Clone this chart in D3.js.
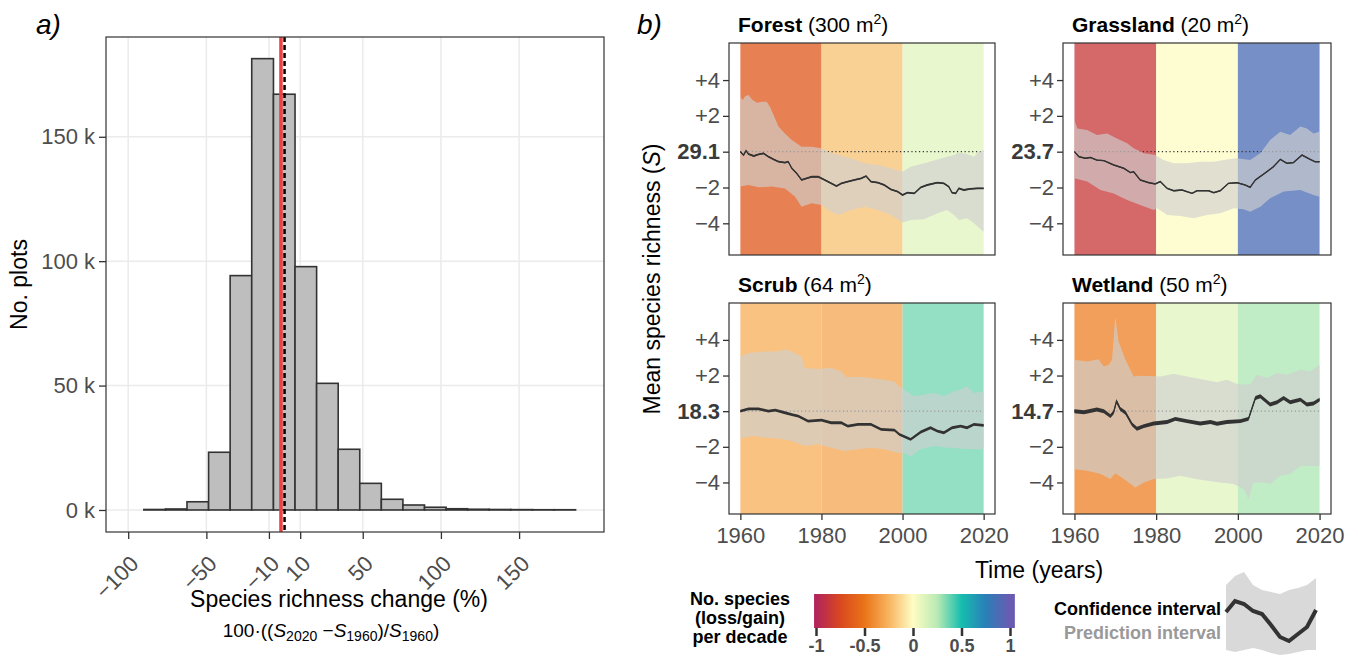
<!DOCTYPE html>
<html>
<head>
<meta charset="utf-8">
<script src="https://cdn.jsdelivr.net/npm/d3@7"></script>
<style>
body { margin: 0; background: #fff; }
text { font-family: "Liberation Sans", Arial, sans-serif; }
</style>
</head>
<body>
<div id="chart"></div>
<script>
// ---------- panel a: histogram of richness change ----------
var binEdges = [-90.0, -76.2, -62.4, -48.6, -34.8, -21.0, -7.1, 6.7, 20.5, 34.3, 48.1,
                61.9, 75.7, 89.5, 103.3, 117.1, 130.9, 144.7, 158.5, 172.3, 186.1];
var binCounts = [0.2, 0.4, 3.3, 23.2, 94.2, 181.4, 167.1, 97.8, 50.9, 24.4,
                 10.7, 4.3, 2.0, 1.1, 0.5, 0.3, 0.2, 0.15, 0.1, 0.1];   // thousands of plots
var meanChange = -2.3;     // red line
var zeroChange = 0;        // dashed line
var histXTicks = [-100, -50, -10, 10, 50, 100, 150];
var histYTicks = [0, 50, 100, 150];

// ---------- panel b: richness through time per habitat ----------
var habitats = ["Forest", "Grassland", "Scrub", "Wetland"];
var plotSize = ["300", "20", "64", "50"];
var baseRichness = [29.1, 23.7, 18.3, 14.7];
var decades = [1960, 1980, 2000, 2020];
var decadeSlope = [
  [-0.66, -0.2, 0.1],
  [-0.86, 0.0, 0.88],
  [-0.27, -0.3, 0.36],
  [-0.45, 0.1, 0.27]
];
var ciHalf = [0.05, 0.04, 0.08, 0.11];
var devTicks = [4, 2, 0, -2, -4];
var yearTicks = [1960, 1980, 2000, 2020];

var forestMean = [[1960,0],[1960.8,-0.19],[1961.4,0.06],[1962,-0.13],[1963.3,-0.24],[1964.5,-0.15],[1965.7,-0.09],
  [1966.9,-0.28],[1968.2,-0.43],[1969.4,-0.56],[1971,-0.61],[1971.8,-0.56],[1972.7,-0.93],[1973.9,-1.21],[1975.1,-1.58],
  [1976.3,-1.49],[1977.6,-1.4],[1979.2,-1.4],[1980.4,-1.53],[1981.6,-1.67],[1983.7,-1.92],[1984.9,-1.77],[1986.5,-1.67],
  [1988.2,-1.58],[1989.8,-1.49],[1991,-1.36],[1992.2,-1.67],[1993.9,-1.73],[1995.5,-1.86],[1997.1,-2.1],[1998.8,-2.23],
  [2000,-2.42],[2001.2,-2.29],[2002.9,-2.33],[2004.5,-1.99],[2006.1,-1.86],[2008.6,-1.73],[2010.2,-1.77],[2011.4,-1.95],
  [2012.2,-2.29],[2013.1,-2.33],[2013.9,-2.05],[2015.1,-2.14],[2016.7,-2.08],[2018.4,-2.05],[2020,-2.05]];
var forestUpper = [[1960,3.07],[1960.6,2.88],[1961.2,3.11],[1962,3.16],[1962.9,2.92],[1964.1,2.73],[1965.3,2.79],
  [1966.5,2.79],[1967.3,2.51],[1968.2,2.05],[1969.4,1.4],[1971,1.02],[1972.7,0.65],[1975.1,0.28],[1977.6,0.28],
  [1980,0.19],[1981.6,0],[1983.3,-0.13],[1985.7,-0.28],[1988.2,-0.43],[1990.6,-0.65],[1993.9,-0.74],[1997.1,-0.93],
  [2000,-1.12],[2002,-0.84],[2005.3,-0.65],[2008.6,-0.43],[2011,-0.28],[2012.7,-0.19],[2013.9,-0.06],[2015.9,-0.13],
  [2017.6,-0.28],[2018.8,0],[2020,0.09]];
var forestLower = [[1960,-1.95],[1962,-1.86],[1964.5,-1.99],[1967.8,-1.95],[1971,-2.05],[1973.5,-2.51],[1975.1,-3.07],
  [1977.6,-2.88],[1980,-2.98],[1982.4,-3.35],[1984.1,-3.53],[1987.3,-3.26],[1990.6,-3.07],[1993.9,-3.26],[1997.1,-3.53],
  [2000,-3.96],[2002,-3.81],[2005.3,-3.78],[2008.6,-3.44],[2011,-3.26],[2012.7,-3.53],[2013.9,-3.81],[2015.9,-3.72],
  [2017.6,-4],[2020,-4.47]];

var grassMean = [[1960,0],[1961.1,-0.28],[1962.7,-0.37],[1963.9,-0.32],[1965.5,-0.47],[1967.2,-0.5],[1969.6,-0.74],
  [1972.1,-0.93],[1973.7,-1.17],[1974.5,-1.12],[1976.1,-1.58],[1978.2,-1.73],[1979.8,-1.8],[1981,-1.67],[1982.7,-2.05],
  [1984.3,-2.18],[1986.3,-2.14],[1988.8,-2.33],[1990,-2.18],[1992.8,-2.18],[1994.1,-2.29],[1995.7,-2.18],[1997.7,-1.77],
  [1999.8,-1.73],[2001.8,-1.86],[2003,-1.99],[2004.3,-1.58],[2007.1,-1.12],[2008.7,-0.84],[2010.4,-0.43],[2012,-0.65],
  [2013.6,-0.61],[2015.7,-0.19],[2017.7,-0.43],[2018.9,-0.56],[2020,-0.56]];
var grassUpper = [[1960,1.77],[1960.7,1.3],[1963.1,1.21],[1965.5,0.93],[1968,1.02],[1970.4,0.74],[1972.9,0.47],
  [1974.5,0.19],[1977,-0.09],[1979.8,-0.19],[1981.8,-0.47],[1984.3,-0.65],[1987.5,-0.65],[1990.8,-0.56],[1994.1,-0.56],
  [1997.3,-0.43],[1999.8,-0.37],[2003,-0.47],[2005.5,-0.09],[2007.9,0.65],[2010.4,1.12],[2012.8,0.93],[2015.3,1.4],
  [2016.9,1.3],[2018.5,1.02],[2020,1.12]];
var grassLower = [[1960,-1.49],[1963.1,-1.67],[1966.4,-2.14],[1969.6,-2.33],[1972.9,-2.7],[1976.1,-2.98],[1979.4,-3.26],
  [1980.2,-3.16],[1982.7,-3.53],[1985.9,-3.59],[1989.2,-3.72],[1992.4,-3.53],[1995.7,-3.44],[1999,-3.16],[2001.4,-3.22],
  [2003,-3.35],[2005.5,-3.07],[2007.9,-2.6],[2011.2,-2.23],[2015.3,-2.14],[2018.5,-2.42],[2020,-2.51]];

var scrubMean = [[1960,0],[1962,0.13],[1964.5,0.13],[1966.9,0],[1968.6,0.06],[1971,-0.09],[1972.7,-0.19],[1974.3,-0.28],
  [1976.7,-0.56],[1980,-0.5],[1982.4,-0.65],[1984.9,-0.65],[1986.5,-0.84],[1989,-0.74],[1992.2,-0.74],[1994.7,-1.02],
  [1998,-1.06],[1999.2,-1.3],[2002,-1.58],[2004.5,-1.17],[2006.9,-0.93],[2008.6,-1.12],[2010.2,-1.21],[2012.2,-0.93],
  [2014.3,-0.84],[2015.9,-0.93],[2017.6,-0.74],[2020,-0.8]];
var scrubUpper = [[1960,3.07],[1962,3.26],[1966.1,3.35],[1969.4,3.35],[1971,3.48],[1972.7,3.35],[1975.1,3.07],
  [1975.9,2.42],[1979.2,2.36],[1982.4,2.42],[1984.9,2.23],[1986.1,1.92],[1989.8,1.92],[1992.2,1.86],[1995.5,1.77],
  [1998,1.67],[1999.6,1.3],[2000.4,1.21],[2002.9,0.84],[2005.3,0.93],[2007.8,1.02],[2010.2,0.84],[2012.7,1.12],
  [2014.3,1.21],[2015.9,1.4],[2017.6,1.02],[2020,1.12]];
var scrubLower = [[1960,-1.54],[1962.9,-1.4],[1966.1,-1.49],[1969.4,-1.54],[1972.7,-1.67],[1975.9,-1.95],[1979.2,-1.86],
  [1982.4,-2.05],[1985.7,-2.23],[1989,-2.14],[1992.2,-2.05],[1995.5,-2.14],[1998.8,-2.33],[2000.4,-2.36],[2002,-2.55],
  [2004.5,-2.14],[2007.8,-1.95],[2011,-2.05],[2014.3,-2.1],[2016.7,-2.14],[2020,-2.14]];

var wetMean = [[1960,0],[1962.3,-0.06],[1963.5,0],[1965.5,0.09],[1967.2,0],[1968.8,-0.28],[1969.6,-0.06],[1970.3,0.56],
  [1971.2,0.13],[1972.5,-0.09],[1974.1,-0.74],[1975.3,-0.99],[1977,-0.84],[1979.4,-0.69],[1982.7,-0.61],[1984.7,-0.43],
  [1987.5,-0.56],[1990.8,-0.69],[1993.3,-0.61],[1994.9,-0.71],[1997.3,-0.61],[2000.6,-0.56],[2002.6,-0.43],[2004.3,0.74],
  [2005.5,0.84],[2007.9,0.37],[2009.6,0.5],[2011.2,0.74],[2012.8,0.5],[2015.3,0.65],[2016.9,0.37],[2018.5,0.43],[2020,0.65]];
var wetUpper = [[1960,2.88],[1963.1,2.79],[1965.9,2.92],[1967.2,2.51],[1968.4,2.6],[1969.2,2.88],[1970,5.3],[1970.8,3.91],
  [1972.5,2.88],[1974.5,1.95],[1976.1,1.99],[1981,1.95],[1984.3,2.1],[1987.5,1.95],[1990.8,1.8],[1994.9,1.62],
  [1997.3,1.77],[2000.2,1.49],[2003,1.49],[2004.7,2.05],[2007.1,1.86],[2009.6,2.14],[2012,2.05],[2015.3,2.33],
  [2017.7,2.23],[2020,2.6]];
var wetLower = [[1960,-3.26],[1963.1,-3.35],[1966.4,-3.53],[1968.8,-3.81],[1970,-3.48],[1972.1,-3.81],[1974.9,-4.28],
  [1977,-4],[1979.4,-3.81],[1982.7,-3.78],[1985.9,-3.63],[1989.2,-3.78],[1992.4,-3.91],[1995.7,-4],[1999,-4.09],
  [2001.4,-4.37],[2002.6,-4.93],[2003.8,-4],[2006.3,-4],[2007.9,-4.09],[2010.4,-3.63],[2012.8,-3.53],[2015.3,-3.07],[2020,-3.07]];

// legend glyph
var demoT = [0, 0.1, 0.2, 0.3, 0.4, 0.5, 0.6, 0.7, 0.8, 0.9, 1];
var demoMean = [0, 0.55, 0.4, 0.05, -0.1, -0.65, -1.25, -1.45, -1.1, -0.75, 0.1];
var demoUpper = [1.35, 1.8, 2.0, 1.35, 1.1, 1.0, 0.9, 1.1, 1.2, 1.35, 1.7];
var demoLower = [-1.9, -2.0, -1.9, -1.8, -1.9, -2.05, -2.15, -2.1, -2.0, -1.9, -1.9];
var legendTicks = [-1, -0.5, 0, 0.5, 1];
var legendRange = [-1.02, 1.05];

var slopeStops = [-1, -0.75, -0.5, -0.25, 0, 0.25, 0.5, 0.75, 1];
var slopeColours = ["#b2245c", "#d9481f", "#ea7418", "#f8b460", "#fefdc4", "#b9eab4", "#16bdae", "#2a7fb8", "#6a5bb2"];

var mean = [forestMean, grassMean, scrubMean, wetMean];
var upper = [forestUpper, grassUpper, scrubUpper, wetUpper];
var lower = [forestLower, grassLower, scrubLower, wetLower];

var FONT = "Liberation Sans, Arial, sans-serif";
var minus = function(d) { return d < 0 ? "\u2212" + (-d) : "" + d; };

var svg = d3.select("#chart").append("svg")
    .attr("width", 1358)
    .attr("height", 657);

var colour = d3.scaleLinear().domain(slopeStops).range(slopeColours).clamp(true);

// ================= panel a =================
var pa = {left: 106, right: 604, top: 37, bottom: 532};
var xa = d3.scaleLinear().domain([-114.2, 204.3]).range([pa.left, pa.right]);
var ya = d3.scaleLinear().domain([-8.85, 190.1]).range([pa.bottom, pa.top]);

var ga = svg.append("g");
ga.selectAll(".vgrid").data(histXTicks).enter().append("line")
    .attr("x1", function(d) { return xa(d); }).attr("x2", function(d) { return xa(d); })
    .attr("y1", pa.top).attr("y2", pa.bottom)
    .attr("stroke", "#ebebeb").attr("stroke-width", 1.5);
ga.selectAll(".hgrid").data(histYTicks).enter().append("line")
    .attr("x1", pa.left).attr("x2", pa.right)
    .attr("y1", function(d) { return ya(d); }).attr("y2", function(d) { return ya(d); })
    .attr("stroke", "#ebebeb").attr("stroke-width", 1.5);

ga.selectAll("rect.bar").data(binCounts).enter().append("rect")
    .attr("class", "bar")
    .attr("x", function(d, i) { return xa(binEdges[i]); })
    .attr("width", function(d, i) { return xa(binEdges[i + 1]) - xa(binEdges[i]); })
    .attr("y", function(d) { return ya(d); })
    .attr("height", function(d) { return ya(0) - ya(d); })
    .attr("fill", "#bebebe").attr("stroke", "#333").attr("stroke-width", 1.6);

ga.append("line")
    .attr("x1", xa(meanChange)).attr("x2", xa(meanChange))
    .attr("y1", pa.top).attr("y2", pa.bottom)
    .attr("stroke", "#f04040").attr("stroke-width", 3.5);
ga.append("line")
    .attr("x1", xa(zeroChange)).attr("x2", xa(zeroChange))
    .attr("y1", pa.top).attr("y2", pa.bottom)
    .attr("stroke", "#000").attr("stroke-width", 2.5).attr("stroke-dasharray", "5,3");

ga.append("rect")
    .attr("x", pa.left).attr("y", pa.top)
    .attr("width", pa.right - pa.left).attr("height", pa.bottom - pa.top)
    .attr("fill", "none").attr("stroke", "#333").attr("stroke-width", 1.2);

var ayA = ga.append("g").attr("transform", "translate(" + pa.left + ",0)")
    .call(d3.axisLeft(ya).tickValues(histYTicks).tickSize(7).tickFormat(function(d) { return d + " k"; }));
ayA.select(".domain").remove();
ayA.attr("font-family", FONT);
ayA.selectAll("line").attr("stroke", "#333").attr("stroke-width", 1.3);
ayA.selectAll("text").attr("font-size", 22).attr("fill", "#4d4d4d").attr("x", -11);

var axA = ga.append("g").attr("transform", "translate(0," + pa.bottom + ")")
    .call(d3.axisBottom(xa).tickValues(histXTicks).tickSize(7).tickFormat(minus));
axA.select(".domain").remove();
axA.attr("font-family", FONT);
axA.selectAll("line").attr("stroke", "#333").attr("stroke-width", 1.3);
axA.selectAll("text")
    .attr("font-size", 22).attr("fill", "#4d4d4d")
    .attr("x", null).attr("y", null).attr("dy", "0.72em")
    .attr("text-anchor", "end")
    .attr("transform", "translate(0,22) rotate(-45)");

ga.append("text")
    .attr("transform", "translate(27," + ((pa.top + pa.bottom) / 2) + ") rotate(-90)")
    .attr("text-anchor", "middle").attr("font-size", 23).text("No. plots");
ga.append("text")
    .attr("x", 339).attr("y", 607).attr("text-anchor", "middle")
    .attr("font-size", 23).text("Species richness change (%)");

var f = ga.append("text").attr("x", 331).attr("y", 637).attr("text-anchor", "middle").attr("font-size", 19);
f.append("tspan").text("100\u00b7((");
f.append("tspan").attr("font-style", "italic").text("S");
f.append("tspan").attr("font-size", 14).attr("dy", 4).text("2020");
f.append("tspan").attr("dy", -4).text(" \u2212");
f.append("tspan").attr("font-style", "italic").text("S");
f.append("tspan").attr("font-size", 14).attr("dy", 4).text("1960");
f.append("tspan").attr("dy", -4).text(")/");
f.append("tspan").attr("font-style", "italic").text("S");
f.append("tspan").attr("font-size", 14).attr("dy", 4).text("1960");
f.append("tspan").attr("dy", -4).text(")");

svg.append("text").attr("x", 36).attr("y", 34).attr("font-size", 28).attr("font-style", "italic").text("a)");
svg.append("text").attr("x", 637).attr("y", 34).attr("font-size", 28).attr("font-style", "italic").text("b)");

// ================= panel b =================
var boxes = [
  {l: 729, r: 995, t: 43, b: 255},
  {l: 1063, r: 1331, t: 43, b: 255},
  {l: 729, r: 995, t: 303, b: 514},
  {l: 1063, r: 1331, t: 303, b: 514}
];
var yearDomain = [1957.2, 2022.8];
var devDomain = [-5.77, 6.07];

habitats.forEach(function(h, i) {
  var b = boxes[i];
  var x = d3.scaleLinear().domain(yearDomain).range([b.l, b.r]);
  var y = d3.scaleLinear().domain(devDomain).range([b.b, b.t]);
  var g = svg.append("g");

  g.selectAll("rect.band").data(decadeSlope[i]).enter().append("rect")
      .attr("x", function(d, j) { return x(decades[j]); })
      .attr("width", function(d, j) { return x(decades[j + 1]) - x(decades[j]); })
      .attr("y", b.t).attr("height", b.b - b.t)
      .attr("fill", function(d) { return colour(d); })
      .attr("fill-opacity", 0.76);

  g.append("line")
      .attr("x1", x(decades[0])).attr("x2", x(decades[3]))
      .attr("y1", y(0)).attr("y2", y(0))
      .attr("stroke", "#333").attr("stroke-width", 1.2).attr("stroke-dasharray", "1.2,2.6");

  var line = d3.line().x(function(d) { return x(d[0]); }).y(function(d) { return y(d[1]); });
  g.append("path")
      .attr("d", line(upper[i].concat(lower[i].slice().reverse())) + "Z")
      .attr("fill", "#cfcfcf").attr("fill-opacity", 0.65);

  var ci = ciHalf[i];
  g.append("path").datum(mean[i])
      .attr("d", d3.area().x(function(d) { return x(d[0]); })
        .y0(function(d) { return y(d[1] - ci); }).y1(function(d) { return y(d[1] + ci); }))
      .attr("fill", "#333");
  g.append("path").datum(mean[i])
      .attr("d", line)
      .attr("fill", "none").attr("stroke", "#333").attr("stroke-width", 1.3);

  g.append("rect")
      .attr("x", b.l).attr("y", b.t).attr("width", b.r - b.l).attr("height", b.b - b.t)
      .attr("fill", "none").attr("stroke", "#333").attr("stroke-width", 1.2);

  var ay = g.append("g").attr("transform", "translate(" + b.l + ",0)")
      .call(d3.axisLeft(y).tickValues(devTicks).tickSize(6)
        .tickFormat(function(d) { return d === 0 ? baseRichness[i].toFixed(1) : (d > 0 ? "+" + d : minus(d)); }));
  ay.select(".domain").remove();
  ay.attr("font-family", FONT);
  ay.selectAll("line").attr("stroke", "#333").attr("stroke-width", 1.3);
  ay.selectAll("text").attr("font-size", 22).attr("x", -9)
      .attr("fill", function(d) { return d === 0 ? "#3a3a3a" : "#4d4d4d"; })
      .attr("font-weight", function(d) { return d === 0 ? "bold" : "normal"; });

  if (i >= 2) {
    var ax = g.append("g").attr("transform", "translate(0," + b.b + ")")
        .call(d3.axisBottom(x).tickValues(yearTicks).tickSize(6).tickFormat(d3.format("d")));
    ax.select(".domain").remove();
    ax.attr("font-family", FONT);
    ax.selectAll("line").attr("stroke", "#333").attr("stroke-width", 1.3);
    ax.selectAll("text").attr("font-size", 22).attr("fill", "#4d4d4d").attr("y", 13);
  }

  var t = g.append("text").attr("x", b.l + 9).attr("y", b.t - 11).attr("font-size", 21);
  t.append("tspan").attr("font-weight", "bold").text(h);
  t.append("tspan").text(" (" + plotSize[i] + " m");
  t.append("tspan").attr("font-size", 14).attr("dy", -8).text("2");
  t.append("tspan").attr("dy", 8).text(")");
});

svg.append("text")
    .attr("transform", "translate(660,279) rotate(-90)")
    .attr("text-anchor", "middle").attr("font-size", 23)
    .call(function(s) {
      s.append("tspan").text("Mean species richness (");
      s.append("tspan").attr("font-style", "italic").text("S");
      s.append("tspan").text(")");
    });
svg.append("text").attr("x", 1039).attr("y", 578).attr("text-anchor", "middle")
    .attr("font-size", 23).text("Time (years)");

// ---------- colour legend ----------
var lx = d3.scaleLinear().domain([-1, 1]).range([816, 1010]);
var defs = svg.append("defs");
var grad = defs.append("linearGradient").attr("id", "slopeGrad")
    .attr("x1", "0%").attr("x2", "100%").attr("y1", "0%").attr("y2", "0%");
slopeStops.forEach(function(s, k) {
  grad.append("stop")
      .attr("offset", ((lx(s) - lx(legendRange[0])) / (lx(legendRange[1]) - lx(legendRange[0])) * 100) + "%")
      .attr("stop-color", slopeColours[k]);
});
svg.append("rect")
    .attr("x", lx(legendRange[0])).attr("y", 594)
    .attr("width", lx(legendRange[1]) - lx(legendRange[0])).attr("height", 34)
    .attr("fill", "url(#slopeGrad)");
var lax = svg.append("g").attr("transform", "translate(0,628)")
    .call(d3.axisBottom(lx).tickValues(legendTicks).tickSize(8).tickFormat(function(d) { return "" + d; }));
lax.select(".domain").remove();
lax.attr("font-family", FONT);
lax.selectAll("line").attr("stroke", "#333").attr("stroke-width", 2.5);
lax.selectAll("text").attr("font-size", 18).attr("font-weight", "bold").attr("fill", "#4d4d4d").attr("y", 11);

var lt = svg.append("text").attr("text-anchor", "middle").attr("font-size", 18).attr("font-weight", "bold");
["No. species", "(loss/gain)", "per decade"].forEach(function(s, k) {
  lt.append("tspan").attr("x", 740).attr("y", 605 + k * 19).text(s);
});

// ---------- interval legend ----------
svg.append("text").attr("x", 1221).attr("y", 615).attr("text-anchor", "end")
    .attr("font-size", 18).attr("font-weight", "bold").attr("fill", "#000").text("Confidence interval");
svg.append("text").attr("x", 1221).attr("y", 639).attr("text-anchor", "end")
    .attr("font-size", 18).attr("font-weight", "bold").attr("fill", "#999").text("Prediction interval");

var dx = d3.scaleLinear().domain([0, 1]).range([1226, 1316]);
var dy = d3.scaleLinear().domain([-1, 1]).range([632, 592]);
svg.append("path").datum(demoT)
    .attr("d", d3.area().x(function(d) { return dx(d); })
      .y0(function(d, k) { return dy(demoLower[k]); }).y1(function(d, k) { return dy(demoUpper[k]); }))
    .attr("fill", "#d9d9d9");
svg.append("path").datum(demoT)
    .attr("d", d3.line().x(function(d) { return dx(d); }).y(function(d, k) { return dy(demoMean[k]); }))
    .attr("fill", "none").attr("stroke", "#333").attr("stroke-width", 4);
</script>
</body>
</html>
